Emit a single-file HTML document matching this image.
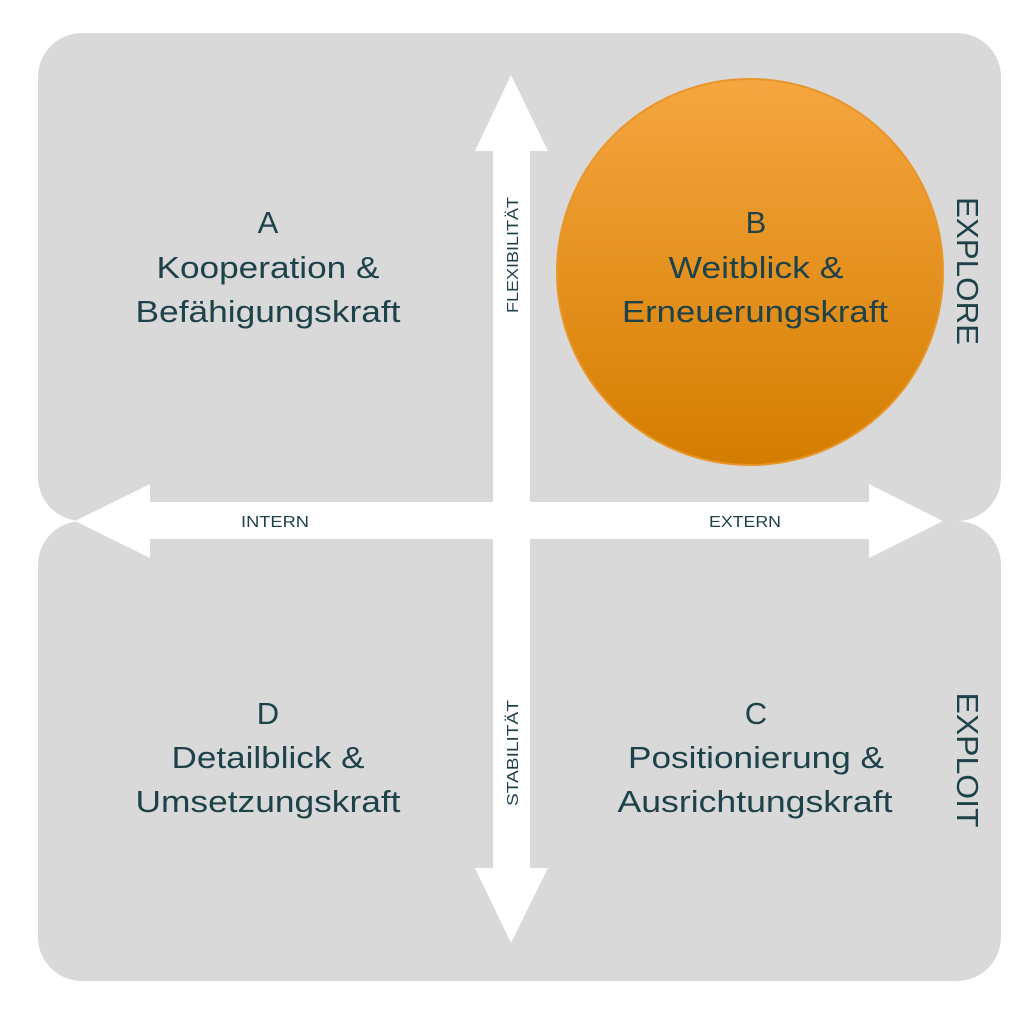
<!DOCTYPE html>
<html><head><meta charset="utf-8"><style>
html,body{margin:0;padding:0;background:#fff;}
svg{display:block;}
text{font-family:"Liberation Sans",sans-serif;fill:#1d4249;}
</style></head><body>
<svg width="1024" height="1019" viewBox="0 0 1024 1019" xmlns="http://www.w3.org/2000/svg">
<defs>
<linearGradient id="g" x1="0" y1="0" x2="0" y2="1">
<stop offset="0" stop-color="#f6a640"/>
<stop offset="1" stop-color="#d47d00"/>
</linearGradient>
</defs>
<rect x="38" y="33" width="963" height="488" rx="44" fill="#d9d9d9"/>
<rect x="38" y="521" width="963" height="460" rx="44" fill="#d9d9d9"/>
<!-- arrows -->
<rect x="493" y="140" width="37" height="740" fill="#fff"/>
<polygon points="511,75 548,151 475,151" fill="#fff"/>
<polygon points="511,943 548,868 475,868" fill="#fff"/>
<rect x="140" y="502" width="740" height="37" fill="#fff"/>
<polygon points="943,521 869,484 869,558" fill="#fff"/>
<polygon points="75,521 150,484 150,558" fill="#fff"/>
<circle cx="750" cy="272" r="193" fill="url(#g)" stroke="#e8962a" stroke-width="2"/>
<g font-size="31" text-anchor="middle">
<text x="268" y="233">A</text>
<text x="268" y="278" textLength="223" lengthAdjust="spacingAndGlyphs">Kooperation &amp;</text>
<text x="268" y="322" textLength="265" lengthAdjust="spacingAndGlyphs">Befähigungskraft</text>
<text x="756" y="233">B</text>
<text x="756" y="278" textLength="175" lengthAdjust="spacingAndGlyphs">Weitblick &amp;</text>
<text x="755" y="322" textLength="266" lengthAdjust="spacingAndGlyphs">Erneuerungskraft</text>
<text x="268" y="724">D</text>
<text x="268" y="768" textLength="193" lengthAdjust="spacingAndGlyphs">Detailblick &amp;</text>
<text x="268" y="812" textLength="265" lengthAdjust="spacingAndGlyphs">Umsetzungskraft</text>
<text x="756" y="724">C</text>
<text x="756" y="768" textLength="256" lengthAdjust="spacingAndGlyphs">Positionierung &amp;</text>
<text x="755" y="812" textLength="275" lengthAdjust="spacingAndGlyphs">Ausrichtungskraft</text>
</g>
<g font-size="31" text-anchor="middle">
<text transform="translate(957,271) rotate(90)" textLength="148" lengthAdjust="spacingAndGlyphs">EXPLORE</text>
<text transform="translate(957,760) rotate(90)" textLength="135" lengthAdjust="spacingAndGlyphs">EXPLOIT</text>
</g>
<g font-size="16" text-anchor="middle">
<text transform="translate(518,255) rotate(-90)" textLength="116" lengthAdjust="spacingAndGlyphs">FLEXIBILITÄT</text>
<text transform="translate(518,753) rotate(-90)" textLength="106" lengthAdjust="spacingAndGlyphs">STABILITÄT</text>
<text x="275" y="527" textLength="68" lengthAdjust="spacingAndGlyphs">INTERN</text>
<text x="745" y="527" textLength="72" lengthAdjust="spacingAndGlyphs">EXTERN</text>
</g>
</svg>
</body></html>
